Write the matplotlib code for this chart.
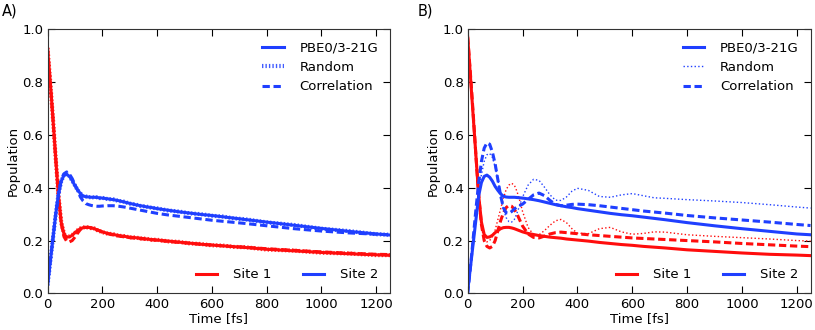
import matplotlib
matplotlib.use("Agg")
from matplotlib import pyplot as plt
from matplotlib.lines import Line2D

# time grid [fs]
t = [0, 10, 20, 30, 40, 50, 60, 70, 80, 90, 100, 110, 120, 130, 140, 150, 160, 170, 180, 190, 200,
     220, 240, 260, 280, 300, 320, 340, 360, 380, 400,
     440, 480, 520, 560, 600, 640, 680, 720,
     800, 900, 1000, 1100, 1200, 1250]

# ---- panel A ----
a_site1 = [0.93, 0.80, 0.66, 0.51, 0.37, 0.27, 0.225, 0.213, 0.214, 0.22, 0.23, 0.238, 0.245, 0.249, 0.25, 0.25, 0.248, 0.245, 0.241, 0.237, 0.233,
           0.227, 0.223, 0.219, 0.216, 0.213, 0.211, 0.209, 0.206, 0.204, 0.202,
           0.198, 0.194, 0.19, 0.186, 0.183, 0.18, 0.177, 0.174,
           0.167, 0.161, 0.155, 0.15, 0.146, 0.144]
a_site2 = [0.03, 0.12, 0.21, 0.30, 0.375, 0.425, 0.447, 0.451, 0.443, 0.428, 0.408, 0.392, 0.378, 0.369, 0.366, 0.365, 0.364, 0.364, 0.363, 0.362, 0.361,
           0.358, 0.355, 0.351, 0.346, 0.341, 0.336, 0.332, 0.328, 0.325, 0.321,
           0.315, 0.309, 0.304, 0.299, 0.295, 0.29, 0.285, 0.28,
           0.27, 0.258, 0.246, 0.235, 0.225, 0.221]
a_rand1 = [0.93, 0.80, 0.66, 0.51, 0.37, 0.27, 0.226, 0.212, 0.216, 0.221, 0.229, 0.239, 0.246, 0.25, 0.251, 0.249, 0.247, 0.246, 0.24, 0.236, 0.232,
           0.226, 0.224, 0.218, 0.217, 0.212, 0.212, 0.208, 0.207, 0.203, 0.203,
           0.197, 0.195, 0.189, 0.187, 0.182, 0.181, 0.176, 0.175,
           0.166, 0.162, 0.154, 0.151, 0.145, 0.145]
a_rand2 = [0.03, 0.12, 0.21, 0.30, 0.375, 0.425, 0.448, 0.452, 0.444, 0.427, 0.409, 0.391, 0.379, 0.368, 0.367, 0.364, 0.365, 0.363, 0.364, 0.361, 0.362,
           0.357, 0.356, 0.35, 0.347, 0.34, 0.337, 0.331, 0.329, 0.324, 0.322,
           0.314, 0.31, 0.303, 0.3, 0.294, 0.291, 0.284, 0.281,
           0.269, 0.259, 0.245, 0.236, 0.224, 0.222]
a_corr1 = [0.93, 0.80, 0.66, 0.51, 0.37, 0.265, 0.215, 0.197, 0.195, 0.2, 0.213, 0.228, 0.242, 0.249, 0.25, 0.25, 0.248, 0.245, 0.241, 0.237, 0.232,
           0.226, 0.221, 0.217, 0.214, 0.211, 0.209, 0.207, 0.205, 0.203, 0.201,
           0.197, 0.193, 0.19, 0.186, 0.183, 0.18, 0.177, 0.175,
           0.169, 0.163, 0.157, 0.152, 0.148, 0.147]
a_corr2 = [0.03, 0.12, 0.21, 0.30, 0.375, 0.43, 0.453, 0.46, 0.452, 0.435, 0.412, 0.39, 0.365, 0.35, 0.34, 0.336, 0.333, 0.331, 0.33, 0.33, 0.331,
           0.332, 0.332, 0.33, 0.327, 0.323, 0.319, 0.315, 0.311, 0.307, 0.303,
           0.297, 0.292, 0.287, 0.282, 0.277, 0.273, 0.269, 0.265,
           0.256, 0.245, 0.236, 0.229, 0.224, 0.222]

# ---- panel B ----
b_site1 = [0.97, 0.82, 0.67, 0.52, 0.37, 0.27, 0.223, 0.212, 0.214, 0.22, 0.23, 0.238, 0.245, 0.249, 0.25, 0.25, 0.248, 0.245, 0.241, 0.237, 0.233,
           0.227, 0.223, 0.219, 0.216, 0.213, 0.211, 0.209, 0.206, 0.204, 0.202,
           0.198, 0.193, 0.189, 0.185, 0.182, 0.178, 0.175, 0.172,
           0.165, 0.159, 0.153, 0.148, 0.145, 0.143]
b_site2 = [0.01, 0.1, 0.19, 0.28, 0.37, 0.42, 0.443, 0.448, 0.44, 0.425, 0.405, 0.39, 0.377, 0.368, 0.365, 0.364, 0.364, 0.364, 0.363, 0.362, 0.361,
           0.358, 0.355, 0.351, 0.346, 0.341, 0.336, 0.332, 0.328, 0.325, 0.321,
           0.315, 0.309, 0.303, 0.298, 0.294, 0.289, 0.284, 0.279,
           0.268, 0.256, 0.245, 0.235, 0.225, 0.222]
b_rand1 = [0.97, 0.81, 0.65, 0.49, 0.35, 0.25, 0.205, 0.195, 0.2, 0.215, 0.24, 0.28, 0.32, 0.36, 0.393, 0.41, 0.417, 0.41, 0.385, 0.35, 0.31,
           0.25, 0.222, 0.222, 0.238, 0.258, 0.275, 0.28, 0.268, 0.245, 0.228,
           0.226, 0.245, 0.25, 0.233, 0.224, 0.227, 0.233, 0.232,
           0.222, 0.216, 0.211, 0.206, 0.2, 0.198]
b_rand2 = [0.0, 0.09, 0.19, 0.29, 0.38, 0.45, 0.5, 0.525, 0.53, 0.515, 0.48, 0.43, 0.375, 0.32, 0.287, 0.272, 0.27, 0.28, 0.305, 0.335, 0.365,
           0.41, 0.432, 0.428, 0.402, 0.373, 0.353, 0.352, 0.365, 0.387, 0.398,
           0.39, 0.367, 0.364, 0.373, 0.378, 0.37, 0.362, 0.36,
           0.355, 0.35, 0.344, 0.336, 0.327, 0.323]
b_corr1 = [0.97, 0.83, 0.68, 0.52, 0.37, 0.26, 0.2, 0.178, 0.172, 0.178, 0.2, 0.238, 0.275, 0.305, 0.325, 0.333, 0.33, 0.318, 0.3, 0.277, 0.255,
           0.225, 0.212, 0.21, 0.217, 0.225, 0.23, 0.232, 0.23, 0.228, 0.226,
           0.222, 0.219, 0.216, 0.213, 0.21, 0.208, 0.206, 0.204,
           0.2, 0.195, 0.189, 0.184, 0.179, 0.177]
b_corr2 = [0.0, 0.1, 0.21, 0.32, 0.42, 0.5, 0.55, 0.57, 0.565, 0.535, 0.49, 0.43, 0.37, 0.325, 0.305, 0.303, 0.31, 0.32, 0.328, 0.333, 0.338,
           0.356, 0.373, 0.38, 0.37, 0.352, 0.337, 0.332, 0.334, 0.337, 0.338,
           0.336, 0.332, 0.327, 0.322, 0.317, 0.312, 0.308, 0.304,
           0.295, 0.286, 0.278, 0.27, 0.261, 0.257]

red = '#ff0d0d'
blue = '#1f3fff'
dash = (2.4, 1.2)
dense_dots = (0.33, 0.5)   # short bars for "Random" in panel A

plt.rcParams['font.family'] = 'DejaVu Sans'
plt.rcParams['font.size'] = 9

fig = plt.figure(figsize=(8.15, 3.3), dpi=100)
axA = fig.add_axes([0.0583, 0.111, 0.4202, 0.800])
axB = fig.add_axes([0.5739, 0.111, 0.4206, 0.800])


def setup(ax):
    ax.set_xlim(0, 1250)
    ax.set_ylim(0, 1.0)
    ax.set_xticks(range(0, 1201, 200))
    ax.set_yticks([0.0, 0.2, 0.4, 0.6, 0.8, 1.0])
    ax.set_yticklabels(['0.0', '0.2', '0.4', '0.6', '0.8', '1.0'])
    ax.tick_params(direction='in', top=True, right=True, length=5, labelsize=9.5, pad=3)
    ax.set_xlabel('Time [fs]', fontsize=9.5, labelpad=1)
    ax.set_ylabel('Population', fontsize=9.5, labelpad=2)
    for s in ax.spines.values():
        s.set_color('#333333')


def legends(ax, rand_style):
    h1 = [Line2D([], [], color=blue, lw=2.2),
          Line2D([], [], color=blue, **rand_style),
          Line2D([], [], color=blue, lw=2.2, dashes=dash)]
    leg1 = ax.legend(h1, ['PBE0/3-21G', 'Random', 'Correlation'], loc='upper right',
                     frameon=False, fontsize=9.5, handlelength=1.6, handletextpad=1.2,
                     labelspacing=0.5, borderaxespad=0.5)
    ax.add_artist(leg1)
    h2 = [Line2D([], [], color=red, lw=2.2), Line2D([], [], color=blue, lw=2.2)]
    ax.legend(h2, ['Site 1', 'Site 2'], loc='lower right', ncol=2, frameon=False,
              fontsize=9.5, handlelength=1.6, handletextpad=1.2, columnspacing=2.4,
              borderaxespad=0.5)


rand_a = dict(lw=3, dashes=dense_dots, alpha=0.85)
rand_b = dict(lw=1, ls=':')

# panel A
axA.plot(t, a_site1, color=red, lw=2.2)
axA.plot(t, a_rand1, color=red, **rand_a)
axA.plot(t, a_corr1, color=red, lw=2.2, dashes=dash)
axA.plot(t, a_site2, color=blue, lw=2.2)
axA.plot(t, a_rand2, color=blue, **rand_a)
axA.plot(t, a_corr2, color=blue, lw=2.2, dashes=dash)
setup(axA)
legends(axA, rand_a)

# panel B
axB.plot(t, b_site1, color=red, lw=2.2)
axB.plot(t, b_rand1, color=red, **rand_b)
axB.plot(t, b_corr1, color=red, lw=2.2, dashes=dash)
axB.plot(t, b_site2, color=blue, lw=2.2)
axB.plot(t, b_rand2, color=blue, **rand_b)
axB.plot(t, b_corr2, color=blue, lw=2.2, dashes=dash)
setup(axB)
legends(axB, rand_b)

fig.text(0.002, 0.967, 'A)', fontsize=10.5, va='center')
fig.text(0.512, 0.967, 'B)', fontsize=10.5, va='center')

fig.savefig('out.png', dpi=100)
